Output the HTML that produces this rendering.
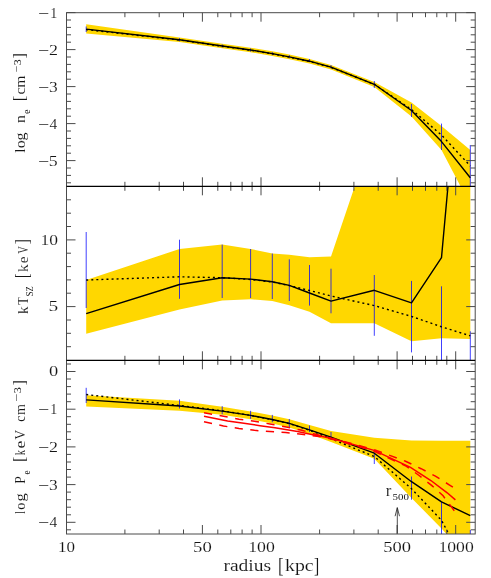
<!DOCTYPE html><html><head><meta charset="utf-8"><title>profiles</title><style>html,body{margin:0;padding:0;background:#fff;}body{width:491px;height:578px;overflow:hidden;font-family:"Liberation Serif",serif;}</style></head><body><svg width="491" height="578" viewBox="0 0 491 578" style="display:block">
<rect width="491" height="578" fill="#fff"/>
<defs>
<clipPath id="c0"><rect x="66.5" y="12.7" width="408.7" height="173.60000000000002"/></clipPath>
<clipPath id="c1"><rect x="66.5" y="186.3" width="408.7" height="174.0"/></clipPath>
<clipPath id="c2"><rect x="66.5" y="360.3" width="408.7" height="173.7"/></clipPath>
</defs>
<g clip-path="url(#c0)">
<polygon points="86.2,24.3 179.5,37.4 222.2,43.7 250.6,47.7 272.3,51.3 289.3,54.6 309.5,58.9 331.0,64.9 374.3,82.0 411.5,102.5 441.5,126.0 470.3,150.0 470.3,205.0 441.5,150.0 411.5,116.5 374.3,87.0 331.0,69.5 309.5,63.5 289.3,59.2 272.3,55.9 250.6,52.3 222.2,48.3 179.5,42.0 86.2,33.6" fill="#ffd700"/>
<g stroke="#0000ff" stroke-width="0.75">
<line x1="86.2" y1="26.5" x2="86.2" y2="32.0"/>
<line x1="179.5" y1="38.1" x2="179.5" y2="41.3"/>
<line x1="222.2" y1="44.4" x2="222.2" y2="47.6"/>
<line x1="250.6" y1="48.4" x2="250.6" y2="51.6"/>
<line x1="272.3" y1="52.0" x2="272.3" y2="55.2"/>
<line x1="289.3" y1="55.1" x2="289.3" y2="58.3"/>
<line x1="309.5" y1="59.0" x2="309.5" y2="62.2"/>
<line x1="331" y1="65.1" x2="331" y2="68.3"/>
<line x1="374.3" y1="81" x2="374.3" y2="88"/>
<line x1="411.5" y1="104" x2="411.5" y2="117"/>
<line x1="441.5" y1="123.6" x2="441.5" y2="150"/>
<line x1="470.3" y1="145" x2="470.3" y2="190"/>
</g>
<polyline points="86.2,29.6 179.5,40.0 222.2,46.2 250.6,50.2 272.3,53.8 289.3,57.1 309.5,61.4 331.0,67.4 374.3,84.3 411.5,109.5 441.5,135.0 470.3,166.0" fill="none" stroke="#000" stroke-width="1.4" stroke-dasharray="2 3.07"/>
<polyline points="86.2,29.1 179.5,39.7 222.2,46.0 250.6,50.0 272.3,53.6 289.3,56.9 309.5,61.2 331.0,67.2 374.3,84.3 411.5,110.5 441.5,141.6 470.3,177.7" fill="none" stroke="#000" stroke-width="1.4" stroke-linejoin="round"/>

</g>
<g clip-path="url(#c1)">
<polygon points="86.2,280.0 179.5,249.0 222.2,244.6 250.6,249.0 272.3,253.5 289.3,254.8 309.5,257.3 331.0,256.5 374.3,128.5 411.5,100.0 441.5,100.0 470.3,100.0 470.3,339.0 441.5,338.3 411.5,341.3 374.3,323.2 331.0,323.2 309.5,311.8 289.3,305.3 272.3,301.0 250.6,299.3 222.2,300.6 179.5,309.5 86.2,333.7" fill="#ffd700"/>
<g stroke="#0000ff" stroke-width="0.75">
<line x1="86.2" y1="232" x2="86.2" y2="308"/>
<line x1="179.5" y1="239.7" x2="179.5" y2="298.8"/>
<line x1="222.2" y1="244.6" x2="222.2" y2="298"/>
<line x1="250.6" y1="249" x2="250.6" y2="298"/>
<line x1="272.3" y1="253.5" x2="272.3" y2="299"/>
<line x1="289.3" y1="259.3" x2="289.3" y2="301"/>
<line x1="309.5" y1="265" x2="309.5" y2="305.6"/>
<line x1="331" y1="268.7" x2="331" y2="313.3"/>
<line x1="374.3" y1="275" x2="374.3" y2="335.8"/>
<line x1="411.5" y1="280.9" x2="411.5" y2="352.4"/>
<line x1="441.5" y1="286.3" x2="441.5" y2="365"/>
<line x1="470.3" y1="331.3" x2="470.3" y2="365"/>
</g>
<polyline points="86.2,280.0 179.5,276.8 222.2,277.7 250.6,279.5 272.3,282.0 289.3,285.6 309.5,290.5 331.0,296.0 374.3,305.6 411.5,316.4 441.5,326.8 470.3,335.8" fill="none" stroke="#000" stroke-width="1.4" stroke-dasharray="2 3.07"/>
<polyline points="86.2,313.6 179.5,284.5 222.2,277.7 250.6,279.1 272.3,281.8 289.3,285.4 309.5,293.0 331.0,301.1 374.3,290.3 411.5,302.9 441.5,257.6 470.3,-60.0" fill="none" stroke="#000" stroke-width="1.4" stroke-linejoin="round"/>

</g>
<g clip-path="url(#c2)">
<polygon points="86.2,395.2 179.5,400.8 222.2,406.8 250.6,411.4 272.3,415.6 289.3,419.3 309.5,425.0 331.0,431.0 374.3,437.7 411.5,440.6 441.5,440.8 470.3,440.8 470.3,560.0 441.5,528.6 411.5,497.9 374.3,458.7 331.0,442.0 309.5,434.0 289.3,427.6 272.3,423.6 250.6,419.3 222.2,414.8 179.5,410.8 86.2,406.5" fill="#ffd700"/>
<g stroke="#0000ff" stroke-width="0.75">
<line x1="86.2" y1="387.8" x2="86.2" y2="403"/>
<line x1="179.5" y1="399.4" x2="179.5" y2="408.5"/>
<line x1="222.2" y1="406.2" x2="222.2" y2="414.3"/>
<line x1="250.6" y1="410.8" x2="250.6" y2="418.8"/>
<line x1="272.3" y1="414.9" x2="272.3" y2="422.2"/>
<line x1="289.3" y1="419" x2="289.3" y2="427.1"/>
<line x1="309.5" y1="425.5" x2="309.5" y2="432"/>
<line x1="331" y1="432" x2="331" y2="439.3"/>
<line x1="374.3" y1="452.6" x2="374.3" y2="464"/>
<line x1="411.5" y1="476.5" x2="411.5" y2="499.7"/>
<line x1="441.5" y1="501.9" x2="441.5" y2="540"/>
<line x1="470.3" y1="530" x2="470.3" y2="540"/>
</g>
<polyline points="86.2,394.5 179.5,405.5 222.2,410.8 250.6,415.4 272.3,419.6 289.3,423.6 309.5,430.2 331.0,438.7 374.3,456.5 411.5,488.7 441.5,520.3 470.3,574.0" fill="none" stroke="#000" stroke-width="1.4" stroke-dasharray="2 3.07"/>
<polyline points="86.2,399.9 179.5,406.0 222.2,411.1 250.6,415.4 272.3,419.5 289.3,423.4 309.5,429.8 331.0,437.2 374.3,453.2 411.5,481.7 441.5,501.9 470.3,515.6" fill="none" stroke="#000" stroke-width="1.4" stroke-linejoin="round"/>
<polyline points="204.0,412.7 239.0,419.2 254.5,421.2 270.0,424.0 285.0,426.8 301.0,430.1 316.7,434.6 326.0,436.9 340.0,440.4 374.1,449.6 405.5,461.2 421.1,468.7 435.4,476.1 449.2,484.8 452.9,487.1" fill="none" stroke="#ff0000" stroke-width="1.5" stroke-dasharray="8.2 7.649"/><polyline points="204.0,416.3 227.6,420.9 243.9,423.3 260.0,425.7 275.0,427.7 281.0,428.7 297.6,431.4 313.9,434.9 326.0,437.3 340.0,440.8 374.1,450.4 410.5,467.3 430.9,480.5 447.2,492.8 455.4,499.9" fill="none" stroke="#ff0000" stroke-width="1.5"/><polyline points="204.0,421.7 223.5,426.0 239.0,428.5 254.5,430.3 270.0,431.6 285.7,432.6 301.7,434.3 317.0,436.2 326.0,437.7 340.0,441.2 374.1,451.2 406.5,466.3 419.1,475.5 431.9,485.6 443.1,495.8 454.3,510.7" fill="none" stroke="#ff0000" stroke-width="1.5" stroke-dasharray="8.2 7.471"/>
</g>
<g stroke="#4a4a4a" stroke-width="1" fill="none">
<rect x="66.5" y="12.7" width="408.7" height="521.3"/>
<line x1="202.4" y1="12.7" x2="202.4" y2="21.7"/>
<line x1="202.4" y1="186.3" x2="202.4" y2="177.3"/>
<line x1="261.0" y1="12.7" x2="261.0" y2="21.7"/>
<line x1="261.0" y1="186.3" x2="261.0" y2="177.3"/>
<line x1="397.1" y1="12.7" x2="397.1" y2="21.7"/>
<line x1="397.1" y1="186.3" x2="397.1" y2="177.3"/>
<line x1="455.7" y1="12.7" x2="455.7" y2="21.7"/>
<line x1="455.7" y1="186.3" x2="455.7" y2="177.3"/>
<line x1="124.9" y1="12.7" x2="124.9" y2="17.2"/>
<line x1="124.9" y1="186.3" x2="124.9" y2="181.8"/>
<line x1="159.2" y1="12.7" x2="159.2" y2="17.2"/>
<line x1="159.2" y1="186.3" x2="159.2" y2="181.8"/>
<line x1="183.5" y1="12.7" x2="183.5" y2="17.2"/>
<line x1="183.5" y1="186.3" x2="183.5" y2="181.8"/>
<line x1="217.8" y1="12.7" x2="217.8" y2="17.2"/>
<line x1="217.8" y1="186.3" x2="217.8" y2="181.8"/>
<line x1="230.8" y1="12.7" x2="230.8" y2="17.2"/>
<line x1="230.8" y1="186.3" x2="230.8" y2="181.8"/>
<line x1="242.1" y1="12.7" x2="242.1" y2="17.2"/>
<line x1="242.1" y1="186.3" x2="242.1" y2="181.8"/>
<line x1="252.1" y1="12.7" x2="252.1" y2="17.2"/>
<line x1="252.1" y1="186.3" x2="252.1" y2="181.8"/>
<line x1="319.6" y1="12.7" x2="319.6" y2="17.2"/>
<line x1="319.6" y1="186.3" x2="319.6" y2="181.8"/>
<line x1="353.9" y1="12.7" x2="353.9" y2="17.2"/>
<line x1="353.9" y1="186.3" x2="353.9" y2="181.8"/>
<line x1="378.2" y1="12.7" x2="378.2" y2="17.2"/>
<line x1="378.2" y1="186.3" x2="378.2" y2="181.8"/>
<line x1="412.5" y1="12.7" x2="412.5" y2="17.2"/>
<line x1="412.5" y1="186.3" x2="412.5" y2="181.8"/>
<line x1="425.5" y1="12.7" x2="425.5" y2="17.2"/>
<line x1="425.5" y1="186.3" x2="425.5" y2="181.8"/>
<line x1="436.8" y1="12.7" x2="436.8" y2="17.2"/>
<line x1="436.8" y1="186.3" x2="436.8" y2="181.8"/>
<line x1="446.8" y1="12.7" x2="446.8" y2="17.2"/>
<line x1="446.8" y1="186.3" x2="446.8" y2="181.8"/>
<line x1="202.4" y1="186.3" x2="202.4" y2="195.3"/>
<line x1="202.4" y1="360.3" x2="202.4" y2="351.3"/>
<line x1="261.0" y1="186.3" x2="261.0" y2="195.3"/>
<line x1="261.0" y1="360.3" x2="261.0" y2="351.3"/>
<line x1="397.1" y1="186.3" x2="397.1" y2="195.3"/>
<line x1="397.1" y1="360.3" x2="397.1" y2="351.3"/>
<line x1="455.7" y1="186.3" x2="455.7" y2="195.3"/>
<line x1="455.7" y1="360.3" x2="455.7" y2="351.3"/>
<line x1="124.9" y1="186.3" x2="124.9" y2="190.8"/>
<line x1="124.9" y1="360.3" x2="124.9" y2="355.8"/>
<line x1="159.2" y1="186.3" x2="159.2" y2="190.8"/>
<line x1="159.2" y1="360.3" x2="159.2" y2="355.8"/>
<line x1="183.5" y1="186.3" x2="183.5" y2="190.8"/>
<line x1="183.5" y1="360.3" x2="183.5" y2="355.8"/>
<line x1="217.8" y1="186.3" x2="217.8" y2="190.8"/>
<line x1="217.8" y1="360.3" x2="217.8" y2="355.8"/>
<line x1="230.8" y1="186.3" x2="230.8" y2="190.8"/>
<line x1="230.8" y1="360.3" x2="230.8" y2="355.8"/>
<line x1="242.1" y1="186.3" x2="242.1" y2="190.8"/>
<line x1="242.1" y1="360.3" x2="242.1" y2="355.8"/>
<line x1="252.1" y1="186.3" x2="252.1" y2="190.8"/>
<line x1="252.1" y1="360.3" x2="252.1" y2="355.8"/>
<line x1="319.6" y1="186.3" x2="319.6" y2="190.8"/>
<line x1="319.6" y1="360.3" x2="319.6" y2="355.8"/>
<line x1="353.9" y1="186.3" x2="353.9" y2="190.8"/>
<line x1="353.9" y1="360.3" x2="353.9" y2="355.8"/>
<line x1="378.2" y1="186.3" x2="378.2" y2="190.8"/>
<line x1="378.2" y1="360.3" x2="378.2" y2="355.8"/>
<line x1="412.5" y1="186.3" x2="412.5" y2="190.8"/>
<line x1="412.5" y1="360.3" x2="412.5" y2="355.8"/>
<line x1="425.5" y1="186.3" x2="425.5" y2="190.8"/>
<line x1="425.5" y1="360.3" x2="425.5" y2="355.8"/>
<line x1="436.8" y1="186.3" x2="436.8" y2="190.8"/>
<line x1="436.8" y1="360.3" x2="436.8" y2="355.8"/>
<line x1="446.8" y1="186.3" x2="446.8" y2="190.8"/>
<line x1="446.8" y1="360.3" x2="446.8" y2="355.8"/>
<line x1="202.4" y1="360.3" x2="202.4" y2="369.3"/>
<line x1="202.4" y1="534.0" x2="202.4" y2="525.0"/>
<line x1="261.0" y1="360.3" x2="261.0" y2="369.3"/>
<line x1="261.0" y1="534.0" x2="261.0" y2="525.0"/>
<line x1="397.1" y1="360.3" x2="397.1" y2="369.3"/>
<line x1="397.1" y1="534.0" x2="397.1" y2="525.0"/>
<line x1="455.7" y1="360.3" x2="455.7" y2="369.3"/>
<line x1="455.7" y1="534.0" x2="455.7" y2="525.0"/>
<line x1="124.9" y1="360.3" x2="124.9" y2="364.8"/>
<line x1="124.9" y1="534.0" x2="124.9" y2="529.5"/>
<line x1="159.2" y1="360.3" x2="159.2" y2="364.8"/>
<line x1="159.2" y1="534.0" x2="159.2" y2="529.5"/>
<line x1="183.5" y1="360.3" x2="183.5" y2="364.8"/>
<line x1="183.5" y1="534.0" x2="183.5" y2="529.5"/>
<line x1="217.8" y1="360.3" x2="217.8" y2="364.8"/>
<line x1="217.8" y1="534.0" x2="217.8" y2="529.5"/>
<line x1="230.8" y1="360.3" x2="230.8" y2="364.8"/>
<line x1="230.8" y1="534.0" x2="230.8" y2="529.5"/>
<line x1="242.1" y1="360.3" x2="242.1" y2="364.8"/>
<line x1="242.1" y1="534.0" x2="242.1" y2="529.5"/>
<line x1="252.1" y1="360.3" x2="252.1" y2="364.8"/>
<line x1="252.1" y1="534.0" x2="252.1" y2="529.5"/>
<line x1="319.6" y1="360.3" x2="319.6" y2="364.8"/>
<line x1="319.6" y1="534.0" x2="319.6" y2="529.5"/>
<line x1="353.9" y1="360.3" x2="353.9" y2="364.8"/>
<line x1="353.9" y1="534.0" x2="353.9" y2="529.5"/>
<line x1="378.2" y1="360.3" x2="378.2" y2="364.8"/>
<line x1="378.2" y1="534.0" x2="378.2" y2="529.5"/>
<line x1="412.5" y1="360.3" x2="412.5" y2="364.8"/>
<line x1="412.5" y1="534.0" x2="412.5" y2="529.5"/>
<line x1="425.5" y1="360.3" x2="425.5" y2="364.8"/>
<line x1="425.5" y1="534.0" x2="425.5" y2="529.5"/>
<line x1="436.8" y1="360.3" x2="436.8" y2="364.8"/>
<line x1="436.8" y1="534.0" x2="436.8" y2="529.5"/>
<line x1="446.8" y1="360.3" x2="446.8" y2="364.8"/>
<line x1="446.8" y1="534.0" x2="446.8" y2="529.5"/>
<line x1="66.5" y1="182.8" x2="71.0" y2="182.8"/>
<line x1="475.2" y1="182.8" x2="470.7" y2="182.8"/>
<line x1="66.5" y1="175.4" x2="71.0" y2="175.4"/>
<line x1="475.2" y1="175.4" x2="470.7" y2="175.4"/>
<line x1="66.5" y1="168.0" x2="71.0" y2="168.0"/>
<line x1="475.2" y1="168.0" x2="470.7" y2="168.0"/>
<line x1="66.5" y1="160.6" x2="75.5" y2="160.6"/>
<line x1="475.2" y1="160.6" x2="466.2" y2="160.6"/>
<line x1="66.5" y1="153.2" x2="71.0" y2="153.2"/>
<line x1="475.2" y1="153.2" x2="470.7" y2="153.2"/>
<line x1="66.5" y1="145.8" x2="71.0" y2="145.8"/>
<line x1="475.2" y1="145.8" x2="470.7" y2="145.8"/>
<line x1="66.5" y1="138.4" x2="71.0" y2="138.4"/>
<line x1="475.2" y1="138.4" x2="470.7" y2="138.4"/>
<line x1="66.5" y1="131.0" x2="71.0" y2="131.0"/>
<line x1="475.2" y1="131.0" x2="470.7" y2="131.0"/>
<line x1="66.5" y1="123.6" x2="75.5" y2="123.6"/>
<line x1="475.2" y1="123.6" x2="466.2" y2="123.6"/>
<line x1="66.5" y1="116.2" x2="71.0" y2="116.2"/>
<line x1="475.2" y1="116.2" x2="470.7" y2="116.2"/>
<line x1="66.5" y1="108.8" x2="71.0" y2="108.8"/>
<line x1="475.2" y1="108.8" x2="470.7" y2="108.8"/>
<line x1="66.5" y1="101.4" x2="71.0" y2="101.4"/>
<line x1="475.2" y1="101.4" x2="470.7" y2="101.4"/>
<line x1="66.5" y1="94.0" x2="71.0" y2="94.0"/>
<line x1="475.2" y1="94.0" x2="470.7" y2="94.0"/>
<line x1="66.5" y1="86.6" x2="75.5" y2="86.6"/>
<line x1="475.2" y1="86.6" x2="466.2" y2="86.6"/>
<line x1="66.5" y1="79.2" x2="71.0" y2="79.2"/>
<line x1="475.2" y1="79.2" x2="470.7" y2="79.2"/>
<line x1="66.5" y1="71.8" x2="71.0" y2="71.8"/>
<line x1="475.2" y1="71.8" x2="470.7" y2="71.8"/>
<line x1="66.5" y1="64.4" x2="71.0" y2="64.4"/>
<line x1="475.2" y1="64.4" x2="470.7" y2="64.4"/>
<line x1="66.5" y1="57.0" x2="71.0" y2="57.0"/>
<line x1="475.2" y1="57.0" x2="470.7" y2="57.0"/>
<line x1="66.5" y1="49.6" x2="75.5" y2="49.6"/>
<line x1="475.2" y1="49.6" x2="466.2" y2="49.6"/>
<line x1="66.5" y1="42.2" x2="71.0" y2="42.2"/>
<line x1="475.2" y1="42.2" x2="470.7" y2="42.2"/>
<line x1="66.5" y1="34.8" x2="71.0" y2="34.8"/>
<line x1="475.2" y1="34.8" x2="470.7" y2="34.8"/>
<line x1="66.5" y1="27.4" x2="71.0" y2="27.4"/>
<line x1="475.2" y1="27.4" x2="470.7" y2="27.4"/>
<line x1="66.5" y1="20.0" x2="71.0" y2="20.0"/>
<line x1="475.2" y1="20.0" x2="470.7" y2="20.0"/>
<line x1="66.5" y1="12.6" x2="75.5" y2="12.6"/>
<line x1="475.2" y1="12.6" x2="466.2" y2="12.6"/>
<line x1="66.5" y1="346.7" x2="71.0" y2="346.7"/>
<line x1="475.2" y1="346.7" x2="470.7" y2="346.7"/>
<line x1="66.5" y1="333.3" x2="71.0" y2="333.3"/>
<line x1="475.2" y1="333.3" x2="470.7" y2="333.3"/>
<line x1="66.5" y1="320.0" x2="71.0" y2="320.0"/>
<line x1="475.2" y1="320.0" x2="470.7" y2="320.0"/>
<line x1="66.5" y1="306.6" x2="75.5" y2="306.6"/>
<line x1="475.2" y1="306.6" x2="466.2" y2="306.6"/>
<line x1="66.5" y1="293.2" x2="71.0" y2="293.2"/>
<line x1="475.2" y1="293.2" x2="470.7" y2="293.2"/>
<line x1="66.5" y1="279.9" x2="71.0" y2="279.9"/>
<line x1="475.2" y1="279.9" x2="470.7" y2="279.9"/>
<line x1="66.5" y1="266.6" x2="71.0" y2="266.6"/>
<line x1="475.2" y1="266.6" x2="470.7" y2="266.6"/>
<line x1="66.5" y1="253.2" x2="71.0" y2="253.2"/>
<line x1="475.2" y1="253.2" x2="470.7" y2="253.2"/>
<line x1="66.5" y1="239.9" x2="75.5" y2="239.9"/>
<line x1="475.2" y1="239.9" x2="466.2" y2="239.9"/>
<line x1="66.5" y1="226.5" x2="71.0" y2="226.5"/>
<line x1="475.2" y1="226.5" x2="470.7" y2="226.5"/>
<line x1="66.5" y1="213.2" x2="71.0" y2="213.2"/>
<line x1="475.2" y1="213.2" x2="470.7" y2="213.2"/>
<line x1="66.5" y1="199.8" x2="71.0" y2="199.8"/>
<line x1="475.2" y1="199.8" x2="470.7" y2="199.8"/>
<line x1="66.5" y1="529.8" x2="71.0" y2="529.8"/>
<line x1="475.2" y1="529.8" x2="470.7" y2="529.8"/>
<line x1="66.5" y1="522.3" x2="75.5" y2="522.3"/>
<line x1="475.2" y1="522.3" x2="466.2" y2="522.3"/>
<line x1="66.5" y1="514.8" x2="71.0" y2="514.8"/>
<line x1="475.2" y1="514.8" x2="470.7" y2="514.8"/>
<line x1="66.5" y1="507.2" x2="71.0" y2="507.2"/>
<line x1="475.2" y1="507.2" x2="470.7" y2="507.2"/>
<line x1="66.5" y1="499.7" x2="71.0" y2="499.7"/>
<line x1="475.2" y1="499.7" x2="470.7" y2="499.7"/>
<line x1="66.5" y1="492.1" x2="71.0" y2="492.1"/>
<line x1="475.2" y1="492.1" x2="470.7" y2="492.1"/>
<line x1="66.5" y1="484.6" x2="75.5" y2="484.6"/>
<line x1="475.2" y1="484.6" x2="466.2" y2="484.6"/>
<line x1="66.5" y1="477.1" x2="71.0" y2="477.1"/>
<line x1="475.2" y1="477.1" x2="470.7" y2="477.1"/>
<line x1="66.5" y1="469.5" x2="71.0" y2="469.5"/>
<line x1="475.2" y1="469.5" x2="470.7" y2="469.5"/>
<line x1="66.5" y1="462.0" x2="71.0" y2="462.0"/>
<line x1="475.2" y1="462.0" x2="470.7" y2="462.0"/>
<line x1="66.5" y1="454.4" x2="71.0" y2="454.4"/>
<line x1="475.2" y1="454.4" x2="470.7" y2="454.4"/>
<line x1="66.5" y1="446.9" x2="75.5" y2="446.9"/>
<line x1="475.2" y1="446.9" x2="466.2" y2="446.9"/>
<line x1="66.5" y1="439.4" x2="71.0" y2="439.4"/>
<line x1="475.2" y1="439.4" x2="470.7" y2="439.4"/>
<line x1="66.5" y1="431.8" x2="71.0" y2="431.8"/>
<line x1="475.2" y1="431.8" x2="470.7" y2="431.8"/>
<line x1="66.5" y1="424.3" x2="71.0" y2="424.3"/>
<line x1="475.2" y1="424.3" x2="470.7" y2="424.3"/>
<line x1="66.5" y1="416.7" x2="71.0" y2="416.7"/>
<line x1="475.2" y1="416.7" x2="470.7" y2="416.7"/>
<line x1="66.5" y1="409.2" x2="75.5" y2="409.2"/>
<line x1="475.2" y1="409.2" x2="466.2" y2="409.2"/>
<line x1="66.5" y1="401.7" x2="71.0" y2="401.7"/>
<line x1="475.2" y1="401.7" x2="470.7" y2="401.7"/>
<line x1="66.5" y1="394.1" x2="71.0" y2="394.1"/>
<line x1="475.2" y1="394.1" x2="470.7" y2="394.1"/>
<line x1="66.5" y1="386.6" x2="71.0" y2="386.6"/>
<line x1="475.2" y1="386.6" x2="470.7" y2="386.6"/>
<line x1="66.5" y1="379.0" x2="71.0" y2="379.0"/>
<line x1="475.2" y1="379.0" x2="470.7" y2="379.0"/>
<line x1="66.5" y1="371.5" x2="75.5" y2="371.5"/>
<line x1="475.2" y1="371.5" x2="466.2" y2="371.5"/>
<line x1="66.5" y1="364.0" x2="71.0" y2="364.0"/>
<line x1="475.2" y1="364.0" x2="470.7" y2="364.0"/>
</g>
<g stroke="#000" stroke-width="1.3"><line x1="66.5" y1="186.3" x2="475.2" y2="186.3"/><line x1="66.5" y1="360.3" x2="475.2" y2="360.3"/></g>
<g fill="#141414" font-family="'Liberation Serif', serif" opacity="0.999" stroke="#fff" stroke-width="0.1" style="font-kerning:none">
<text transform="translate(38.70,17.70) scale(1.3783,1)" x="-0.722" y="0" font-size="14.5px">−</text>
<text transform="translate(51.40,17.70) scale(0.9599,1)" x="-1.274" y="0" font-size="14.5px">1</text>
<text transform="translate(38.70,54.70) scale(1.3783,1)" x="-0.722" y="0" font-size="14.5px">−</text>
<text transform="translate(49.80,54.70) scale(1.2387,1)" x="-0.637" y="0" font-size="14.5px">2</text>
<text transform="translate(38.70,91.70) scale(1.3783,1)" x="-0.722" y="0" font-size="14.5px">−</text>
<text transform="translate(49.80,91.70) scale(1.2021,1)" x="-0.694" y="0" font-size="14.5px">3</text>
<text transform="translate(38.70,128.70) scale(1.3783,1)" x="-0.722" y="0" font-size="14.5px">−</text>
<text transform="translate(49.80,128.70) scale(1.0682,1)" x="-0.283" y="0" font-size="14.5px">4</text>
<text transform="translate(38.70,165.70) scale(1.3783,1)" x="-0.722" y="0" font-size="14.5px">−</text>
<text transform="translate(49.80,165.70) scale(1.2327,1)" x="-0.843" y="0" font-size="14.5px">5</text>
<text transform="translate(38.70,414.30) scale(1.3783,1)" x="-0.722" y="0" font-size="14.5px">−</text>
<text transform="translate(51.40,414.30) scale(0.9599,1)" x="-1.274" y="0" font-size="14.5px">1</text>
<text transform="translate(38.70,452.00) scale(1.3783,1)" x="-0.722" y="0" font-size="14.5px">−</text>
<text transform="translate(49.80,452.00) scale(1.2387,1)" x="-0.637" y="0" font-size="14.5px">2</text>
<text transform="translate(38.70,489.70) scale(1.3783,1)" x="-0.722" y="0" font-size="14.5px">−</text>
<text transform="translate(49.80,489.70) scale(1.2021,1)" x="-0.694" y="0" font-size="14.5px">3</text>
<text transform="translate(38.70,527.40) scale(1.3783,1)" x="-0.722" y="0" font-size="14.5px">−</text>
<text transform="translate(49.80,527.40) scale(1.0682,1)" x="-0.283" y="0" font-size="14.5px">4</text>
<text transform="translate(42.10,244.75) scale(1.2073,1)" x="-1.274" y="0" font-size="14.5px">10</text>
<text transform="translate(49.60,311.40) scale(1.3354,1)" x="-0.843" y="0" font-size="14.5px">5</text>
<text transform="translate(49.60,376.40) scale(1.2692,1)" x="-0.552" y="0" font-size="14.5px">0</text>
<text transform="translate(59.50,551.90) scale(1.1757,1)" x="-1.274" y="0" font-size="14.5px">10</text>
<text transform="translate(194.20,551.90) scale(1.2896,1)" x="-0.843" y="0" font-size="14.5px">50</text>
<text transform="translate(249.80,551.90) scale(1.2247,1)" x="-1.274" y="0" font-size="14.5px">100</text>
<text transform="translate(384.40,551.90) scale(1.2773,1)" x="-0.843" y="0" font-size="14.5px">500</text>
<text transform="translate(440.00,551.90) scale(1.2181,1)" x="-1.274" y="0" font-size="14.5px">1000</text>
<text transform="translate(223.80,570.70) scale(1.1782,1)" x="-0.332" y="0" font-size="16.6px">radius</text>
<text transform="translate(279.10,572.20) scale(0.8106,1)" x="-1.521" y="0" font-size="20.5px">[</text>
<text transform="translate(285.40,570.70) scale(1.1927,1)" x="-0.316" y="0" font-size="16.6px">kpc</text>
<text transform="translate(314.50,572.20) scale(0.7668,1)" x="-0.741" y="0" font-size="20.5px">]</text>
<text transform="translate(25.10,152.50) rotate(-90) scale(1.0800,1)" x="-0.296" y="0" font-size="14.8px">log</text>
<text transform="translate(25.10,122.70) rotate(-90) scale(1.0678,1)" x="-0.340" y="0" font-size="14.8px">n</text>
<text transform="translate(29.70,113.60) rotate(-90) scale(0.9334,1)" x="-0.430" y="0" font-size="11px" stroke="none">e</text>
<text transform="translate(25.30,100.00) rotate(-90) scale(0.9697,1)" x="-1.306" y="0" font-size="17.6px">[</text>
<text transform="translate(25.10,94.00) rotate(-90) scale(1.0587,1)" x="-0.564" y="0" font-size="14.8px">cm</text>
<text transform="translate(19.90,71.80) rotate(-90) scale(1.1820,1)" x="-0.498" y="0" font-size="10.0px" stroke="none">−</text>
<text transform="translate(20.50,64.60) rotate(-90) scale(1.2104,1)" x="-0.479" y="0" font-size="10.0px" stroke="none">3</text>
<text transform="translate(25.30,58.00) rotate(-90) scale(0.9187,1)" x="-0.636" y="0" font-size="17.6px">]</text>
<text transform="translate(28.10,313.60) rotate(-90) scale(1.0255,1)" x="-0.282" y="0" font-size="14.8px">k</text>
<text transform="translate(28.10,304.60) rotate(-90) scale(0.8678,1)" x="-0.267" y="0" font-size="14.8px">T</text>
<text transform="translate(32.50,296.00) rotate(-90) scale(0.9362,1)" x="-0.669" y="0" font-size="10.0px" stroke="none">S</text>
<text transform="translate(32.50,291.20) rotate(-90) scale(0.8460,1)" x="-0.479" y="0" font-size="10.0px" stroke="none">Z</text>
<text transform="translate(28.30,276.90) rotate(-90) scale(0.7527,1)" x="-1.329" y="0" font-size="17.9px">[</text>
<text transform="translate(28.10,271.80) rotate(-90) scale(1.0396,1)" x="-0.282" y="0" font-size="14.8px">k</text>
<text transform="translate(28.10,262.70) rotate(-90) scale(1.0223,1)" x="-0.578" y="0" font-size="14.8px">e</text>
<text transform="translate(28.10,253.60) rotate(-90) scale(0.7049,1)" x="-0.166" y="0" font-size="14.8px">V</text>
<text transform="translate(28.30,243.70) rotate(-90) scale(0.8782,1)" x="-0.647" y="0" font-size="17.9px">]</text>
<text transform="translate(25.10,513.60) rotate(-90) scale(0.6819,1)" x="-0.296" y="0" font-size="14.8px">l</text>
<text transform="translate(25.10,509.30) rotate(-90) scale(0.9565,1)" x="-0.564" y="0" font-size="14.8px">o</text>
<text transform="translate(25.10,500.90) rotate(-90) scale(1.1262,1)" x="-0.636" y="0" font-size="14.8px">g</text>
<text transform="translate(25.10,483.30) rotate(-90) scale(0.9290,1)" x="-0.426" y="0" font-size="14.8px">P</text>
<text transform="translate(29.50,474.20) rotate(-90) scale(0.8351,1)" x="-0.430" y="0" font-size="11px" stroke="none">e</text>
<text transform="translate(25.30,460.90) rotate(-90) scale(0.9187,1)" x="-1.306" y="0" font-size="17.6px">[</text>
<text transform="translate(25.10,455.10) rotate(-90) scale(0.7165,1)" x="-0.282" y="0" font-size="14.8px">k</text>
<text transform="translate(25.10,447.80) rotate(-90) scale(1.2049,1)" x="-0.578" y="0" font-size="14.8px">e</text>
<text transform="translate(25.10,439.70) rotate(-90) scale(0.9270,1)" x="-0.166" y="0" font-size="14.8px">V</text>
<text transform="translate(25.10,421.30) rotate(-90) scale(0.9189,1)" x="-0.564" y="0" font-size="14.8px">c</text>
<text transform="translate(25.10,414.70) rotate(-90) scale(0.9389,1)" x="-0.311" y="0" font-size="14.8px">m</text>
<text transform="translate(19.90,400.70) rotate(-90) scale(1.4183,1)" x="-0.498" y="0" font-size="10.0px" stroke="none">−</text>
<text transform="translate(20.50,392.60) rotate(-90) scale(1.2346,1)" x="-0.479" y="0" font-size="10.0px" stroke="none">3</text>
<text transform="translate(25.30,384.60) rotate(-90) scale(0.8676,1)" x="-0.636" y="0" font-size="17.6px">]</text>
<text transform="translate(386.10,495.90) scale(1.0285,1)" x="-0.326" y="0" font-size="16.3px">r</text>
<text transform="translate(393.20,499.90) scale(1.1847,1)" x="-0.535" y="0" font-size="9.2px" stroke="none">500</text>
</g>
<g stroke="#222" stroke-width="0.8" fill="none"><line x1="397.3" y1="533.5" x2="397.3" y2="507.8"/><polyline points="395.1,516.2 397.3,507.6 399.5,516.2"/></g>
</svg></body></html>
